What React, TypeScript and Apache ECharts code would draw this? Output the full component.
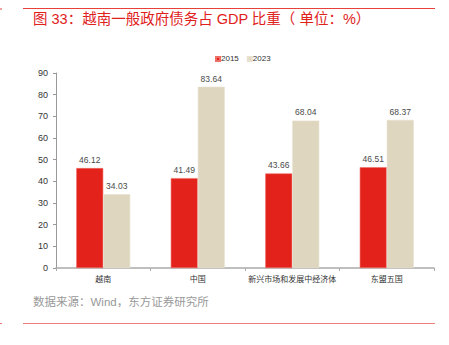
import React, { useEffect, useRef } from "react";
import * as echarts from "echarts";

const categories = ["越南", "中国", "新兴市场和发展中经济体", "东盟五国"];
const series2015 = [46.12, 41.49, 43.66, 46.51];
const series2023 = [34.03, 83.64, 68.04, 68.37];
const seriesNames = ["2015", "2023"];
const titleText = "图 33：越南一般政府债务占 GDP 比重（ 单位：%）";
const sourceText = "数据来源：Wind，东方证券研究所";

const FONT = '"Liberation Sans", "Noto Sans CJK SC", sans-serif';

export default function App() {
  const ref = useRef<HTMLDivElement>(null);
  useEffect(() => {
    document.body.style.margin = "0";
    const chart = echarts.init(ref.current!, undefined, { renderer: "svg" });
    const labelStyle = {
      show: true,
      position: "top" as const,
      distance: 4,
      fontSize: 8.5,
      color: "#4a4a4a",
      fontFamily: FONT,
    };
    chart.setOption({
      animation: false,
      backgroundColor: "#ffffff",
      textStyle: { fontFamily: FONT },
      legend: {
        data: seriesNames,
        top: 50,
        left: 210,
        itemWidth: 4,
        itemHeight: 4,
        itemGap: 8,
        icon: "rect",
        textStyle: { fontSize: 8, color: "#333", fontFamily: FONT, padding: [0, 0, 0, -4] },
      },
      grid: { left: 56, right: 15, top: 73, bottom: 77, containLabel: false },
      xAxis: {
        type: "category",
        data: categories,
        axisLine: { lineStyle: { color: "#aaaaaa", width: 1.5 } },
        axisTick: { show: true, length: 3, lineStyle: { color: "#aaaaaa" } },
        axisLabel: { fontSize: 8, color: "#333", margin: 7, fontFamily: FONT, interval: 0 },
      },
      yAxis: {
        type: "value",
        min: 0,
        max: 90,
        interval: 10,
        splitLine: { show: false },
        axisLine: { show: true, lineStyle: { color: "#999999" } },
        axisTick: { show: true, length: 3, lineStyle: { color: "#999999" } },
        axisLabel: { fontSize: 9, color: "#333", margin: 8, fontFamily: FONT },
      },
      series: [
        {
          name: seriesNames[0],
          type: "bar",
          data: series2015,
          barWidth: 27,
          barGap: "0%",
          itemStyle: { color: "#E3231B", borderColor: "#EE6F68", borderWidth: 0.6 },
          label: labelStyle,
        },
        {
          name: seriesNames[1],
          type: "bar",
          data: series2023,
          barWidth: 27,
          barGap: "0%",
          itemStyle: { color: "#DFD6BF", borderColor: "#E8E1D0", borderWidth: 0.6 },
          label: labelStyle,
        },
      ],
      graphic: [
        { type: "line", shape: { x1: 23, y1: 8.5, x2: 435, y2: 8.5 }, style: { stroke: "#E8413A", lineWidth: 1 } },
        { type: "line", shape: { x1: 0, y1: 9, x2: 2, y2: 9 }, style: { stroke: "#E8413A", lineWidth: 1 } },
        {
          type: "text",
          left: 33,
          top: 12,
          style: { text: titleText, fontSize: 14.5, fill: "#E0211B", fontFamily: FONT },
        },
        {
          type: "text",
          left: 33,
          top: 296,
          style: { text: sourceText, fontSize: 11.5, fill: "#999999", fontFamily: FONT },
        },
        { type: "line", shape: { x1: 23, y1: 323.5, x2: 435, y2: 323.5 }, style: { stroke: "#F07F7A", lineWidth: 1 } },
        { type: "line", shape: { x1: 0, y1: 323.5, x2: 2, y2: 323.5 }, style: { stroke: "#F07F7A", lineWidth: 1 } },
      ],
    });
    return () => chart.dispose();
  }, []);
  return <div ref={ref} style={{ width: 449, height: 345 }} />;
}
